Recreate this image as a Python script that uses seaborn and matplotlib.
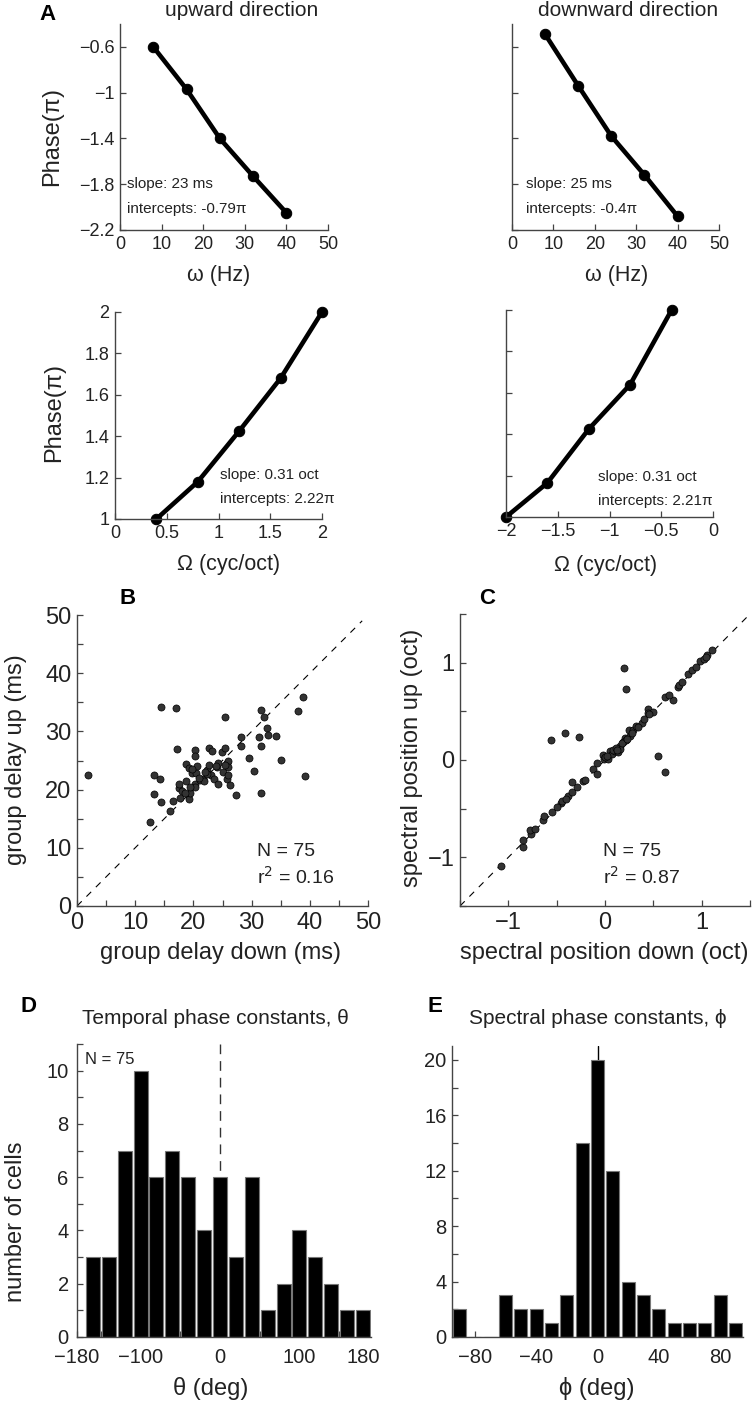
import numpy as np
import pandas as pd
import matplotlib
matplotlib.use("Agg")
import matplotlib.pyplot as plt
from matplotlib.ticker import MultipleLocator, FixedLocator
import seaborn as sns

sns.set_style("ticks")
plt.rcParams['font.family'] = ['Liberation Sans', 'DejaVu Sans']
plt.rcParams['axes.unicode_minus'] = True

# ---------- data ----------
# A: phase vs modulation frequency
omega_hz = [8, 16, 24, 32, 40]
phase_up_t = [-0.60, -0.97, -1.40, -1.73, -2.05]
phase_down_t = [-0.49, -0.94, -1.38, -1.72, -2.08]
omega_cyc_up = [0.4, 0.8, 1.2, 1.6, 2.0]
phase_up_s = [1.0, 1.18, 1.425, 1.68, 2.0]
omega_cyc_down = [-2.0, -1.6, -1.2, -0.8, -0.4]
phase_down_s = [1.0, 1.165, 1.425, 1.64, 2.0]

# B: group delay (ms)
delay_down = [1.9, 12.6, 13.2, 13.2, 14.3, 14.4, 14.4, 17.0, 17.1, 15.9,
              16.5, 17.6, 18.0, 17.7, 18.7, 18.8, 19.1, 19.2, 19.5, 19.3,
              19.8, 20.2, 20.3, 20.3, 20.3, 20.5, 20.7, 21.2, 21.7, 21.8,
              22.6, 22.4, 22.7, 23.2, 23.1, 23.5, 24.0, 24.2, 24.2, 24.9,
              25.1, 25.4, 25.5, 25.8, 25.9, 25.9, 25.8, 26.3, 27.3, 28.1,
              28.1, 29.5, 30.4, 31.3, 31.7, 31.7, 31.6, 32.1, 32.6, 32.9,
              34.2, 35.1, 37.9, 38.9, 39.1, 19.7, 22.3, 19.5, 18.6, 25.5,
              21.0, 23.8, 26.0, 17.5, 22.0]
delay_up = [22.5, 14.4, 22.5, 19.2, 21.9, 17.9, 34.2, 34.1, 26.9, 16.3,
            18.0, 20.2, 19.8, 18.6, 21.4, 24.4, 19.1, 18.3, 19.5, 23.7,
            22.9, 26.8, 25.8, 21.0, 20.5, 22.9, 24.1, 21.6, 21.9, 21.5,
            27.1, 23.4, 24.2, 26.7, 22.5, 21.9, 23.9, 20.9, 24.5, 26.4,
            23.0, 32.5, 27.2, 24.5, 24.9, 23.8, 21.8, 20.8, 19.1, 27.5,
            29.1, 25.4, 23.2, 29.0, 33.7, 27.5, 19.5, 32.5, 30.5, 29.4,
            29.2, 25.1, 33.5, 35.9, 22.3, 23.5, 22.7, 20.5, 19.5, 24.3,
            22.0, 24.0, 22.5, 21.0, 23.0]

# C: spectral position (oct)
spec_down = [-1.08, -0.85, -0.85, -0.77, -0.78, -0.72, -0.64, -0.63, -0.46, -0.44,
             -0.38, -0.34, -0.29, -0.34, -0.23, -0.21, -0.56, -0.41, -0.27, -0.12,
             -0.08, -0.08, -0.02, -0.01, 0.03, 0.05, 0.07, 0.10, 0.13, 0.14,
             0.16, 0.16, 0.19, 0.21, 0.20, 0.22, 0.22, 0.26, 0.25, 0.29,
             0.32, 0.38, 0.44, 0.44, 0.50, 0.55, 0.62, 0.62, 0.70, 0.75,
             0.77, 0.86, 0.90, 0.98, 1.02, 1.06, 1.11, -0.55, -0.50, -0.40,
             0.00, 0.02, 0.08, 0.11, 0.12, 0.18, 0.23, 0.28, 0.34, 0.40,
             0.46, 0.66, 0.80, 0.94, 1.04]
spec_up = [-1.09, -0.89, -0.82, -0.76, -0.72, -0.71, -0.62, -0.58, -0.44, -0.42,
           -0.37, -0.33, -0.28, -0.23, -0.22, -0.21, 0.21, 0.28, 0.24, -0.09,
           -0.03, -0.14, 0.05, 0.01, 0.01, 0.09, 0.06, 0.09, 0.08, 0.12,
           0.14, 0.11, 0.19, 0.23, 0.95, 0.73, 0.21, 0.25, 0.31, 0.31,
           0.35, 0.38, 0.52, 0.48, 0.49, 0.04, -0.12, 0.65, 0.62, 0.75,
           0.77, 0.88, 0.92, 1.02, 1.04, 1.08, 1.13, -0.53, -0.48, -0.40,
           0.03, 0.04, 0.10, 0.12, 0.10, 0.17, 0.22, 0.28, 0.34, 0.42,
           0.47, 0.67, 0.80, 0.96, 1.06]

# D: temporal phase constants histogram (bin centres, counts)
theta_centers = [-160, -140, -120, -100, -80, -60, -40, -20, 0,
                 20, 40, 60, 80, 100, 120, 140, 160, 180]
theta_counts = [3, 3, 7, 10, 6, 7, 6, 4, 6, 3, 6, 1, 2, 4, 3, 2, 1, 1]

# E: spectral phase constants histogram
phi_centers = [-90, -80, -70, -60, -50, -40, -30, -20, -10, 0,
               10, 20, 30, 40, 50, 60, 70, 80, 90]
phi_counts = [2, 0, 0, 3, 2, 2, 1, 3, 14, 20, 12, 4, 3, 2, 1, 1, 1, 3, 1]

# ---------- figure ----------
W, H = 755, 1402
fig = plt.figure(figsize=(W / 100, H / 100), dpi=100)
ink = '#222222'
spine_c = '#444444'


def add_ax(l, t, r, b):
    ax = fig.add_axes([l / W, 1 - b / H, (r - l) / W, (b - t) / H])
    ax._px = (l, t, r, b)
    sns.despine(ax=ax)
    for s in ['left', 'bottom']:
        ax.spines[s].set_color(spine_c)
        ax.spines[s].set_linewidth(1.0)
    ax.tick_params(which='both', direction='in', length=4, width=0.9,
                   color=spine_c, labelcolor=ink, pad=4)
    return ax


def xlab(ax, text, cx, cy, size):
    l, t, r, b = ax._px
    ax.set_xlabel(text, fontsize=size, color=ink, va='center', ha='center')
    ax.xaxis.set_label_coords((cx - l) / (r - l), (b - cy) / (b - t))


def ylab(ax, text, cx, cy, size):
    l, t, r, b = ax._px
    ax.set_ylabel(text, fontsize=size, color=ink, va='center', ha='center')
    ax.yaxis.set_label_coords((cx - l) / (r - l), (b - cy) / (b - t))


def note(x, y, text, size=11, **kw):
    fig.text(x / W, 1 - y / H, text, fontsize=size, color=ink, va='center', **kw)


def phase_line(ax, x, y):
    sns.lineplot(x=x, y=y, ax=ax, color='black', lw=3.3, marker='o',
                 markersize=7.5, markeredgecolor='black', clip_on=False)


# A, top row
ax1 = add_ax(120, 24, 328, 230)
phase_line(ax1, omega_hz, phase_up_t)
ax1.set_xlim(0, 50)
ax1.set_ylim(-2.2, -0.4)
ax1.set_xticks([0, 10, 20, 30, 40, 50])
ax1.set_yticks([-2.2, -1.8, -1.4, -1, -0.6])
ax1.set_yticklabels(['\u22122.2', '\u22121.8', '\u22121.4', '\u22121', '\u22120.6'])
ax1.tick_params(labelsize=13)
xlab(ax1, 'ω (Hz)', 219, 275, 15.5)
ylab(ax1, 'Phase(π)', 52, 136, 17)
note(127, 184, 'slope: 23 ms')
note(127, 209, 'intercepts: -0.79π')

ax2 = add_ax(512, 24, 719, 230)
phase_line(ax2, omega_hz, phase_down_t)
ax2.set_xlim(0, 50)
ax2.set_ylim(-2.2, -0.4)
ax2.set_xticks([0, 10, 20, 30, 40, 50])
ax2.set_yticks([-2.2, -1.8, -1.4, -1, -0.6])
ax2.set_yticklabels([])
ax2.tick_params(labelsize=13)
xlab(ax2, 'ω (Hz)', 617, 275, 15.5)
ax2.set_ylabel('')
note(526, 184, 'slope: 25 ms')
note(526, 209, 'intercepts: -0.4π')

note(242, 11, 'upward direction', size=15, ha='center')
note(628, 11, 'downward direction', size=15, ha='center')

# A, bottom row
ax3 = add_ax(115, 312, 322, 519)
phase_line(ax3, omega_cyc_up, phase_up_s)
ax3.set_xlim(0, 2)
ax3.set_ylim(1, 2)
ax3.set_xticks([0, 0.5, 1, 1.5, 2])
ax3.set_xticklabels(['0', '0.5', '1', '1.5', '2'])
ax3.set_yticks([1, 1.2, 1.4, 1.6, 1.8, 2])
ax3.set_yticklabels(['1', '1.2', '1.4', '1.6', '1.8', '2'])
ax3.tick_params(labelsize=13)
xlab(ax3, 'Ω (cyc/oct)', 229, 565, 15.5)
ylab(ax3, 'Phase(π)', 54, 412, 17)
note(220, 475, 'slope: 0.31 oct')
note(220, 499, 'intercepts: 2.22π')

ax4 = add_ax(506, 310, 713, 517)
phase_line(ax4, omega_cyc_down, phase_down_s)
ax4.set_xlim(-2, 0)
ax4.set_ylim(1, 2)
ax4.set_xticks([-2, -1.5, -1, -0.5, 0])
ax4.set_xticklabels(['\u22122', '\u22121.5', '\u22121', '\u22120.5', '0'])
ax4.set_yticks([1, 1.2, 1.4, 1.6, 1.8, 2])
ax4.set_yticklabels([])
ax4.tick_params(labelsize=13)
xlab(ax4, 'Ω (cyc/oct)', 606, 565, 15.5)
ax4.set_ylabel('')
note(598, 477, 'slope: 0.31 oct')
note(598, 501, 'intercepts: 2.21π')

# B: group delay scatter
axB = add_ax(77, 615, 368, 906)
axB.plot([0, 49], [0, 49], ls=(0, (6, 6)), color='black', lw=0.8)
sns.scatterplot(x=delay_down, y=delay_up, ax=axB, s=26, color='#333333',
                edgecolor='black', linewidth=0.5, zorder=3)
axB.set_xlim(0, 50)
axB.set_ylim(0, 50)
axB.xaxis.set_major_locator(MultipleLocator(10))
axB.yaxis.set_major_locator(MultipleLocator(10))
axB.xaxis.set_minor_locator(MultipleLocator(5))
axB.yaxis.set_minor_locator(MultipleLocator(5))
axB.tick_params(labelsize=17)
xlab(axB, 'group delay down (ms)', 220, 953, 17)
ylab(axB, 'group delay up (ms)', 16, 760, 17)
note(257, 852, 'N = 75', size=14)
note(257, 877, 'r$^2$ = 0.16', size=14)

# C: spectral position scatter
axC = add_ax(460, 614, 750, 906)
axC.plot([-1.5, 1.5], [-1.5, 1.5], ls=(0, (6, 6)), color='black', lw=0.8)
sns.scatterplot(x=spec_down, y=spec_up, ax=axC, s=26, color='#333333',
                edgecolor='black', linewidth=0.5, zorder=3)
axC.set_xlim(-1.5, 1.5)
axC.set_ylim(-1.5, 1.5)
axC.set_xticks([-1, 0, 1])
axC.set_yticks([-1, 0, 1])
axC.set_xticklabels(['\u22121', '0', '1'])
axC.set_yticklabels(['\u22121', '0', '1'])
axC.xaxis.set_minor_locator(FixedLocator([-1.5, -0.5, 0.5, 1.5]))
axC.yaxis.set_minor_locator(FixedLocator([-1.5, -0.5, 0.5, 1.5]))
axC.tick_params(labelsize=17)
xlab(axC, 'spectral position down (oct)', 604, 953, 17)
ylab(axC, 'spectral position up (oct)', 412, 758, 17)
note(603, 851, 'N = 75', size=14)
note(603, 877, 'r$^2$ = 0.87', size=14)

# D: temporal phase histogram
axD = add_ax(77, 1044, 371, 1337)
axD.axvline(0, color='#333333', lw=1.0, ls=(0, (7, 5)), zorder=0)
sns.histplot(x=theta_centers, weights=theta_counts, binwidth=20,
             binrange=(-170, 190), shrink=0.88, color='black', alpha=1,
             edgecolor='#777777', linewidth=0.8, ax=axD, zorder=2)
axD.set_xlim(-180, 190)
axD.set_ylim(0, 11)
axD.set_xticks([-180, -100, 0, 100, 180])
axD.set_xticklabels(['\u2212180', '\u2212100', '0', '100', '180'])
axD.xaxis.set_minor_locator(FixedLocator([-150, -50, 50, 150]))
axD.yaxis.set_major_locator(MultipleLocator(2))
axD.yaxis.set_minor_locator(MultipleLocator(1))
axD.tick_params(labelsize=14.5)
axD.tick_params(axis='x', pad=8)
axD.tick_params(axis='y', pad=6)
xlab(axD, 'θ (deg)', 211, 1388, 17)
ylab(axD, 'number of cells', 16, 1222, 17)
note(215, 1018, 'Temporal phase constants, θ', size=15, ha='center')
note(85, 1059, 'N = 75', size=12)

# E: spectral phase histogram
axE = add_ax(452, 1046, 743, 1337)
axE.axvline(0, color='black', lw=1.0, zorder=0)
sns.histplot(x=phi_centers, weights=phi_counts, binwidth=10,
             binrange=(-95, 95), shrink=0.85, color='black', alpha=1,
             edgecolor='#777777', linewidth=0.8, ax=axE, zorder=2)
axE.set_xlim(-95, 95)
axE.set_ylim(0, 21)
axE.set_xticks([-80, -40, 0, 40, 80])
axE.set_xticklabels(['\u221280', '\u221240', '0', '40', '80'])
axE.xaxis.set_minor_locator(FixedLocator([-60, -20, 20, 60]))
axE.yaxis.set_major_locator(MultipleLocator(4))
axE.yaxis.set_minor_locator(MultipleLocator(2))
axE.tick_params(labelsize=14.5)
axE.tick_params(axis='x', pad=8)
xlab(axE, 'ϕ (deg)', 597, 1388, 17)
axE.set_ylabel('')
note(598, 1018, 'Spectral phase constants, ϕ', size=15, ha='center')

# panel letters
for letter, x, y in [('A', 48, 15), ('B', 128, 598), ('C', 487, 598),
                     ('D', 28, 1007), ('E', 435, 1007)]:
    fig.text(x / W, 1 - y / H, letter, fontsize=16, fontweight='bold',
             color='black', ha='center', va='center')

fig.savefig('out.png', dpi=100)
